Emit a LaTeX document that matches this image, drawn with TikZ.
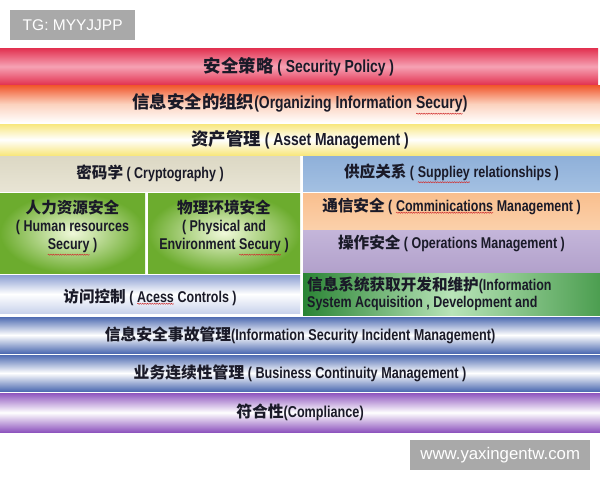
\documentclass[tikz,border=0pt]{standalone}
\usepackage{fontspec}
\usetikzlibrary{decorations.pathmorphing}
\setmainfont{Liberation Sans}[FakeStretch=0.8]
\newfontfamily\cjk{Noto Sans CJK SC}
\newfontfamily\wmfont{Liberation Sans}
\newcommand\zh[1]{{\cjk\bfseries #1}}
\definecolor{txt}{HTML}{1A1A28}
\definecolor{squig}{HTML}{D03030}
\newcommand\sq[1]{\tikz[baseline=(sqw.base)]{\node[inner sep=0pt, outer sep=0pt] (sqw) {#1};
  \draw[squig, line width=0.5pt, decorate, decoration={snake, amplitude=0.55pt, segment length=2.4pt}] ([yshift=-1.5pt]sqw.south west) -- ([yshift=-1.5pt]sqw.south east);}}
\definecolor{wmgray}{HTML}{A9A9A9}
\definecolor{spred}{HTML}{E2304F}
\definecolor{sppink}{HTML}{F6A2B4}
\definecolor{orgor}{HTML}{F0552A}
\definecolor{orglt}{HTML}{FCD2BE}
\definecolor{assy}{HTML}{F8E77E}
\definecolor{crypt}{HTML}{DCD8C4}
\definecolor{crypt2}{HTML}{E8E4D4}
\definecolor{supp}{HTML}{8FB0D9}
\definecolor{supp2}{HTML}{A3C0E2}
\definecolor{gdark}{HTML}{6CAC2E}
\definecolor{glight}{HTML}{F0F9DA}
\definecolor{comm}{HTML}{F9BF8E}
\definecolor{comm2}{HTML}{FBD0AA}
\definecolor{ops}{HTML}{B2A1CB}
\definecolor{ops2}{HTML}{C4B6DA}
\definecolor{accb}{HTML}{8C9FD2}
\definecolor{isadk}{HTML}{2A8434}
\definecolor{isalt}{HTML}{B8E4B8}
\definecolor{isart}{HTML}{4C9E50}
\definecolor{blueb}{HTML}{4F6CB2}
\definecolor{bluelt}{HTML}{C9D3EC}
\definecolor{purp}{HTML}{8E55BE}
\tikzset{
  band/.style={anchor=north west, inner sep=0pt, outer sep=0pt, draw=none},
  lbl/.style={font=\bfseries\fontsize{17.4}{19}\selectfont, text=txt, inner sep=0pt},
  mlbl/.style={font=\bfseries\fontsize{15.8}{19}\selectfont, text=txt, inner sep=0pt},
  slbl/.style={font=\bfseries\fontsize{15.6}{18}\selectfont, text=txt, inner sep=0pt, align=center},
  wmark/.style={fill=wmgray, text=white, inner sep=0pt},
}
\begin{document}
\begin{tikzpicture}[x=1pt,y=-1pt]
\useasboundingbox (0,0) rectangle (600,480);
\fill[white] (0,0) rectangle (600,480);
% watermarks
\node[wmark, minimum width=125pt, minimum height=30pt, anchor=north west, font=\wmfont\fontsize{15.5}{17}\selectfont] (tg) at (10,10) {TG: MYYJJPP};
\node[wmark, minimum width=180pt, minimum height=30pt, anchor=north west, font=\wmfont\fontsize{16.8}{18}\selectfont] (www) at (410,440) {www.yaxingentw.com};
% band 1
\node[band, minimum width=598pt, minimum height=37pt, top color=spred, bottom color=spred, middle color=sppink] (sp) at (0,48) {};
\node[lbl] at (sp.center) {\zh{安全策略}\ ( Security Policy )};
% band 2
\node[band, minimum width=600pt, minimum height=38pt, top color=orgor, bottom color=white, middle color=orglt] (org) at (0,85) {};
\node[lbl] at (org.center) {\zh{信息安全的组织}(Organizing Information \sq{Secury})};
% band 3
\node[band, minimum width=600pt, minimum height=31pt, top color=assy, bottom color=assy, middle color=white] (ass) at (0,124) {};
\node[lbl] at (ass.center) {\zh{资产管理}\ ( Asset Management )};
% row 4
\node[band, minimum width=300pt, minimum height=35pt, top color=crypt, bottom color=crypt2] (cry) at (0,156) {};
\node[slbl] at (cry.center) {\zh{密码学}\ ( Cryptography )};
\node[band, minimum width=297pt, minimum height=35pt, top color=supp, bottom color=supp2] (sup) at (303,156) {};
\node[slbl] at (sup.center) {\zh{供应关系}\ ( \sq{Suppliey} relationships )};
% row 5
\node[band, minimum width=145pt, minimum height=80pt, inner color=glight, outer color=gdark] (hr) at (0,193) {};
\node[slbl] at ([yshift=5pt]hr.center) {\zh{人力资源安全}\\( Human resources\\\sq{Secury} )};
\node[band, minimum width=152pt, minimum height=80pt, inner color=glight, outer color=gdark] (phy) at (148,193) {};
\node[slbl] at ([yshift=5pt]phy.center) {\zh{物理环境安全}\\( Physical and\\Environment \sq{Secury} )};
\node[band, minimum width=297pt, minimum height=36pt, top color=comm, bottom color=comm2] (com) at (303,193) {};
\node[slbl] at ([yshift=5pt]com.center) {\zh{通信安全}\ ( \sq{Comminications} Management )};
\node[band, minimum width=297pt, minimum height=42pt, top color=ops2, bottom color=ops] (ops) at (303,230) {};
\node[slbl] at ([yshift=8pt]ops.center) {\zh{操作安全}\ ( Operations Management )};
% row 6
\node[band, minimum width=300pt, minimum height=38pt, top color=accb, bottom color=bluelt, middle color=white] (acc) at (0,275) {};
\node[slbl] at ([yshift=-3pt]acc.center) {\zh{访问控制}\ ( \sq{Acess} Controls )};
\node[band, minimum width=297pt, minimum height=42pt, left color=isadk, right color=isart, middle color=isalt] (isa) at (303,273) {};
\node[font=\bfseries\fontsize{15.6}{17.5}\selectfont, text=txt, inner sep=0pt, align=left, anchor=west] at ([xshift=4pt]isa.west) {\zh{信息系统获取开发和维护}(Information\\System Acquisition , Development and};
% band 7-9
\node[band, minimum width=600pt, minimum height=36pt, top color=blueb, bottom color=blueb, middle color=white] (inc) at (0,317) {};
\node[mlbl] at (inc.center) {\zh{信息安全事故管理}(Information Security Incident Management)};
\node[band, minimum width=600pt, minimum height=36pt, top color=blueb, bottom color=blueb, middle color=white] (bcm) at (0,355) {};
\node[mlbl] at (bcm.center) {\zh{业务连续性管理}\ ( Business Continuity Management )};
\node[band, minimum width=600pt, minimum height=39pt, top color=purp, bottom color=purp, middle color=white] (cmp) at (0,393) {};
\node[mlbl] at (cmp.center) {\zh{符合性}(Compliance)};
\end{tikzpicture}
\end{document}
